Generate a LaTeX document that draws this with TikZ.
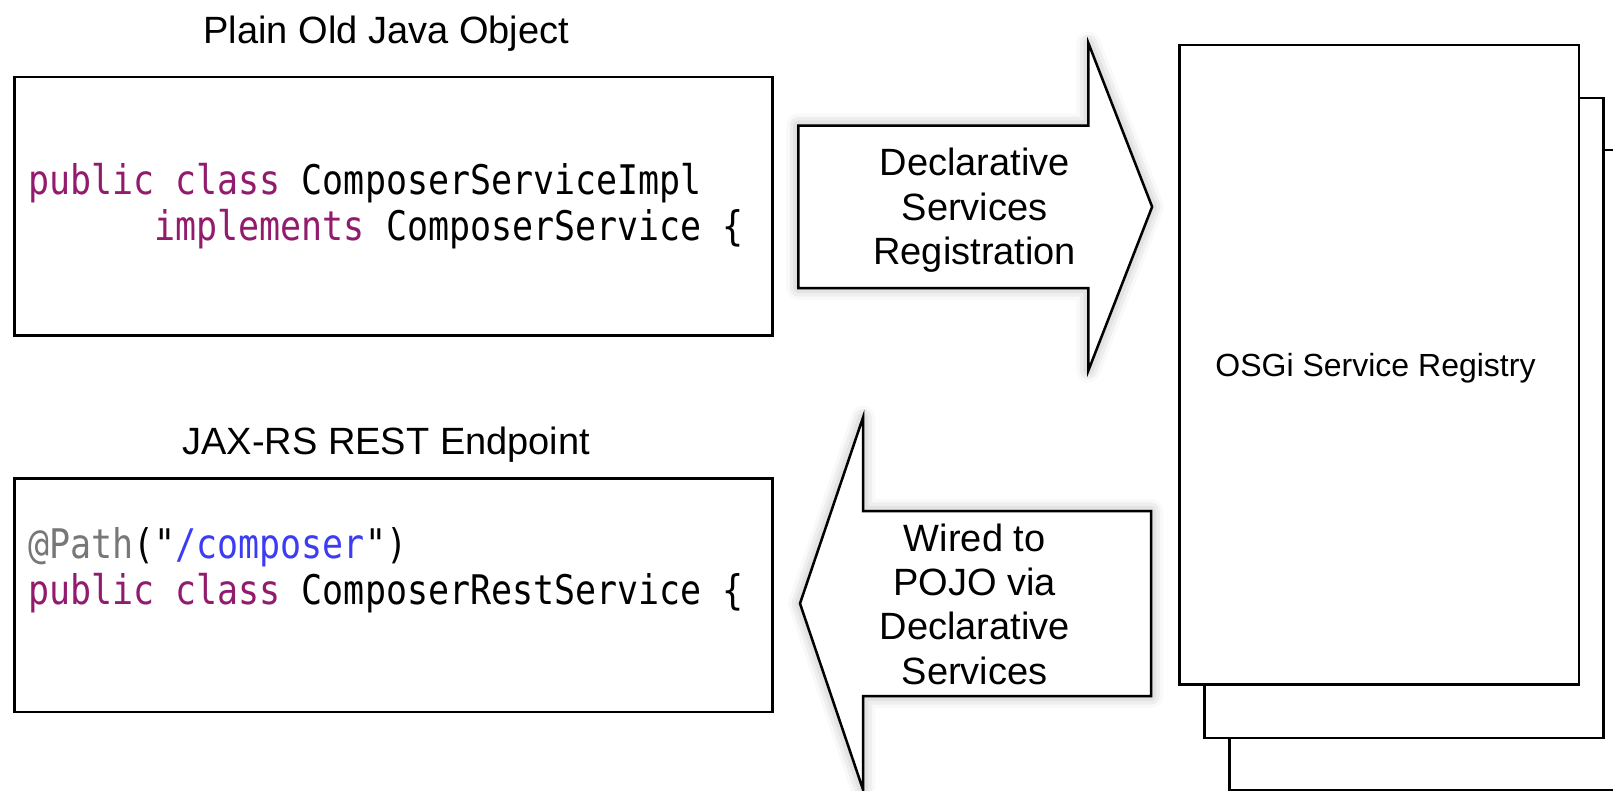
\documentclass[tikz,border=0pt]{standalone}
\usepackage{fontspec}
\setmainfont{Liberation Sans}
\newfontfamily\codefont{DejaVu Sans Mono}[FakeStretch=0.857, Ligatures=TeXOff]
\usetikzlibrary{shadows.blur}
\definecolor{kw}{HTML}{931B6E}
\definecolor{anno}{HTML}{777777}
\definecolor{strc}{HTML}{3C3CF5}
\begin{document}
\begin{tikzpicture}[x=1pt,y=-1pt,
  box/.style={draw=black, line width=2.5pt, fill=white, inner sep=0pt},
  codeline/.style={anchor=base west, inner sep=0pt, font=\codefont\fontsize{40.8}{46}\selectfont},
  lbl/.style={anchor=base, inner sep=0pt, font=\fontsize{38}{44}\selectfont},
  bigarrow/.style={draw=black, line width=2.5pt, fill=white, line join=miter,
    blur shadow={shadow xshift=0pt, shadow yshift=0pt, shadow blur radius=12pt, shadow opacity=35}}
]
\useasboundingbox (0,0) rectangle (1613,790);

% code boxes
\node[box, minimum width=758.2pt, minimum height=258.2pt] (pojo) at (393.5,206.3) {};
\node[box, minimum width=758.2pt, minimum height=233.6pt] (rest) at (393.5,595.1) {};

% titles
\node[lbl] (t1) at (386.3,43.2) {Plain Old Java Object};
\node[lbl] (t2) at (386.3,454.7) {JAX-RS REST Endpoint};

% code
\node[codeline] (c1) at (28,194.4) {{\color{kw}public class} ComposerServiceImpl};
\node[codeline] (c2) at (28,240.7) {\phantom{123456}{\color{kw}implements} ComposerService \{};
\node[codeline] (c3) at (28,558.6) {{\color{anno}@Path}("{\color{strc}/composer}")};
\node[codeline] (c4) at (28,604.9) {{\color{kw}public class} ComposerRestService \{};

% arrows
\draw[bigarrow] (798.3,125.5) -- (1088.4,125.5) -- (1088.4,43.2) -- (1152.1,206.8)
  -- (1088.4,370.4) -- (1088.4,288) -- (798.3,288) -- cycle;
\draw[bigarrow] (1151,511) -- (863,511) -- (863,417.5) -- (800,603.5)
  -- (863,789.5) -- (863,696) -- (1151,696) -- cycle;

\node[lbl] (a1) at (974.7,175.9) {Declarative};
\node[lbl] (a2) at (974.7,220.1) {Services};
\node[lbl] (a3) at (974.7,264.4) {Registration};

\node[lbl] (b1) at (974.7,551.4) {Wired to};
\node[lbl] (b2) at (974.7,595.6) {POJO via};
\node[lbl] (b3) at (974.7,639.9) {Declarative};
\node[lbl] (b4) at (974.7,684.1) {Services};

% registry stack
\node[box, anchor=north west, minimum width=400pt, minimum height=640pt] (reg3) at (1228.3,148.8) {};
\node[box, anchor=north west, minimum width=399pt, minimum height=639.8pt] (reg2) at (1203.3,96.9) {};
\node[box, anchor=north west, minimum width=399.4pt, minimum height=639.4pt] (reg1) at (1178.3,43.6) {};
\node[anchor=base, inner sep=0pt, font=\fontsize{32}{38}\selectfont] (osgi) at (1375.5,376.6) {OSGi Service Registry};
\end{tikzpicture}
\end{document}
